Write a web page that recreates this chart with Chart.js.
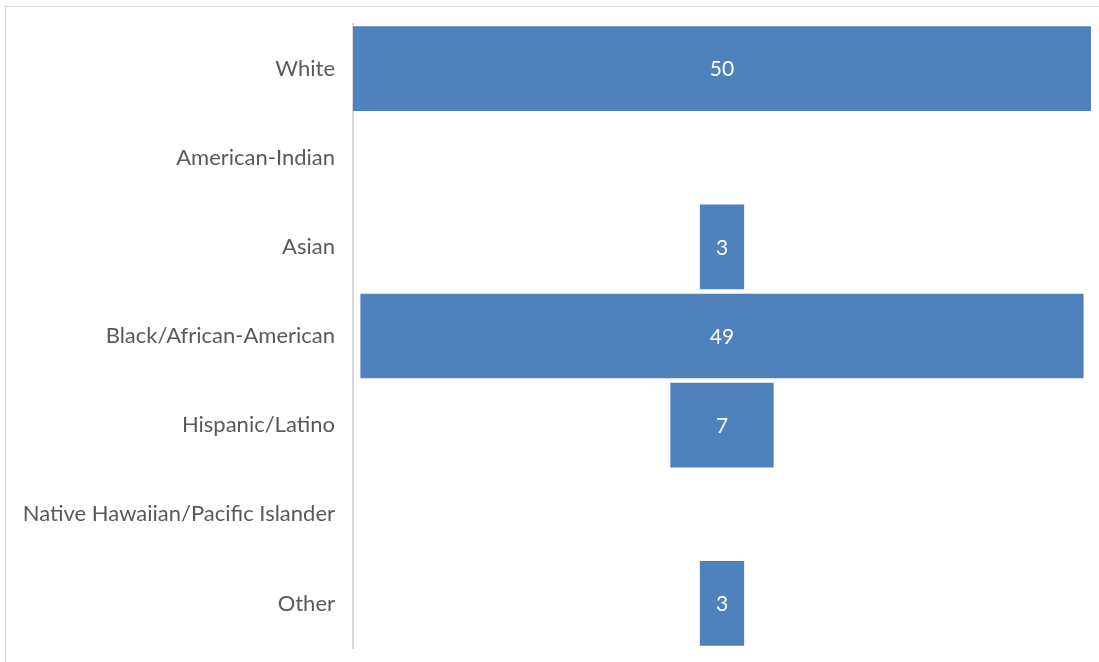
<!DOCTYPE html>
<html>
<head>
<meta charset="utf-8">
<script src="https://cdn.jsdelivr.net/npm/chart.js@4"></script>
<style>
  html, body { margin: 0; padding: 0; background: #fff; overflow: hidden; }
  #frame {
    position: absolute; left: 5px; top: 6px; width: 1100px; height: 660px;
    border: 1px solid #d9d9d9; box-sizing: border-box;
  }
  #wrap { position: absolute; left: 0; top: 0; width: 1099px; height: 662px; }
</style>
</head>
<body>
<div id="frame"></div>
<div id="wrap"><canvas id="chart"></canvas></div>
<script>
const categories = [
  'White',
  'American-Indian',
  'Asian',
  'Black/African-American',
  'Hispanic/Latino',
  'Native Hawaiian/Pacific Islander',
  'Other',
];
const counts = [50, 0, 3, 49, 7, 0, 3];

const barColor = '#4f81bd';
const labelColor = '#595959';
const axisColor = '#d9d9d9';

// centred bars, like a funnel
const spans = counts.map(v => [-v / 2, v / 2]);

const valueLabels = {
  id: 'valueLabels',
  afterDatasetsDraw(c) {
    const { ctx } = c;
    const meta = c.getDatasetMeta(0);
    ctx.save();
    ctx.fillStyle = '#ffffff';
    ctx.font = '21px Lato';
    ctx.textAlign = 'center';
    ctx.textBaseline = 'middle';
    meta.data.forEach((bar, i) => {
      if (!counts[i]) return;
      const mid = c.scales.x.getPixelForValue(0);
      ctx.fillText(String(counts[i]), mid, bar.y + 1);
    });
    ctx.restore();
  },
};

new Chart(document.getElementById('chart'), {
  type: 'bar',
  data: {
    labels: categories,
    datasets: [{
      label: 'Count',
      data: spans,
      backgroundColor: barColor,
      borderWidth: 0,
      borderSkipped: false,
      barPercentage: 0.95,
      categoryPercentage: 1,
    }],
  },
  options: {
    indexAxis: 'y',
    responsive: true,
    maintainAspectRatio: false,
    animation: false,
    layout: {
      padding: { top: 24, bottom: 14, right: 8, left: 0 },
    },
    scales: {
      x: {
        display: false,
        min: -25,
        max: 25,
      },
      y: {
        grid: { display: false, drawTicks: false },
        border: { display: true, color: axisColor, width: 2 },
        ticks: {
          color: labelColor,
          font: { family: 'Lato', size: 22 },
          padding: 18,
        },
        afterFit(scale) {
          scale.width = 353;
          // let layout padding alone decide the top/bottom
          scale.paddingTop = 0;
          scale.paddingBottom = 0;
        },
      },
    },
    plugins: {
      legend: { display: false },
      tooltip: { enabled: false },
    },
  },
  plugins: [valueLabels],
});
</script>
</body>
</html>
